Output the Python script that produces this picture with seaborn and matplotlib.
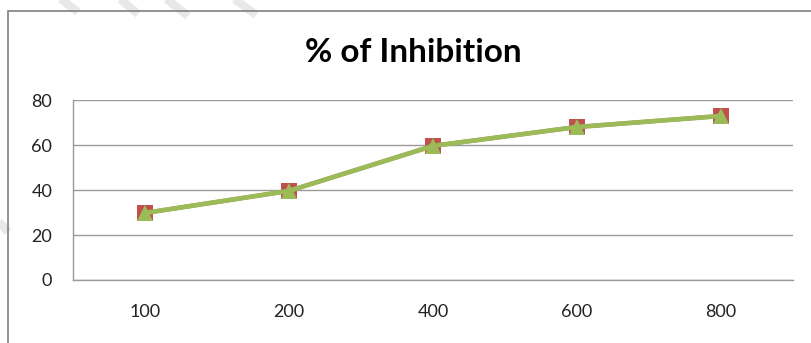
import matplotlib
matplotlib.use("Agg")
import matplotlib.pyplot as plt
from matplotlib.patches import Rectangle
from matplotlib.lines import Line2D
import seaborn as sns

# Dose (concentration) categories and % inhibition readings
concentrations = ["100", "200", "400", "600", "800"]
inhibition_run1 = [29.8, 39.6, 59.6, 68.0, 72.9]
inhibition_run2 = [29.8, 39.6, 59.6, 68.0, 72.9]
y_ticks = [0, 20, 40, 60, 80]

sns.set_style("white")
plt.rcParams["font.family"] = ["Lato", "DejaVu Sans"]

W, H = 812, 343
fig = plt.figure(figsize=(W / 100, H / 100), dpi=100)
ax = fig.add_axes([73 / W, 1 - 280 / H, 720 / W, 180 / H])

red = "#C0504D"
green = "#9BBB59"

sns.pointplot(x=concentrations, y=inhibition_run1, ax=ax, color=red,
              markers="s", linestyles="-", errorbar=None,
              linewidth=3.0, markersize=11.5, markeredgewidth=0, zorder=3)
sns.pointplot(x=concentrations, y=inhibition_run2, ax=ax, color=green,
              markers="^", linestyles="-", errorbar=None,
              linewidth=3.4, markersize=11.5, markeredgewidth=0, zorder=4)

ax.set_xlim(-0.5, len(concentrations) - 0.5)
ax.set_ylim(0, 80)
ax.set_yticks(y_ticks)
ax.set_yticklabels([str(v) for v in y_ticks])
ax.set_xlabel("")
ax.set_ylabel("")

ax.yaxis.grid(True, color="#9a9a9a", linewidth=1.0)
ax.xaxis.grid(False)
ax.set_axisbelow(True)
for side in ("top", "right"):
    ax.spines[side].set_visible(False)
for side in ("left", "bottom"):
    ax.spines[side].set_color("#9a9a9a")
    ax.spines[side].set_linewidth(1.0)

ax.tick_params(axis="y", length=0, pad=15, labelsize=13, labelcolor="#222222")
ax.tick_params(axis="x", length=0, pad=17, labelsize=13, labelcolor="#222222")

# Chart title
fig.text(413 / W, 1 - 52 / H, "% of Inhibition", ha="center", va="center",
         fontsize=24, fontweight="bold", color="black")

# Chart frame
fig.patches.append(Rectangle((8 / W, -0.2), 1.2, 1.2 - 11 / H,
                             transform=fig.transFigure, fill=False,
                             edgecolor="#7f7f7f", linewidth=1.2, zorder=0))

# Faint diagonal watermark strokes
strokes = [((58, -3), (78, 12)), ((118, -3), (138, 14)),
           ((164, -3), (188, 16)), ((232, -3), (256, 15)),
           ((-4, 218), (8, 232))]
for (x0, y0), (x1, y1) in strokes:
    fig.lines.append(Line2D([x0 / W, x1 / W], [1 - y0 / H, 1 - y1 / H],
                            transform=fig.transFigure, color="#e8e8e8",
                            linewidth=6, solid_capstyle="butt", zorder=-1))

fig.savefig("out.png", dpi=100, facecolor="white")
